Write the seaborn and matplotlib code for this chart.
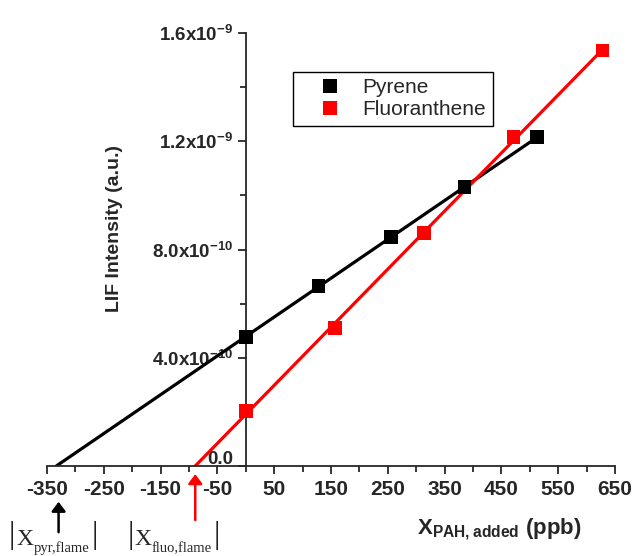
import numpy as np
import pandas as pd
import matplotlib
matplotlib.use("Agg")
import matplotlib.pyplot as plt
import matplotlib.transforms as mtransforms
import seaborn as sns

# measured signals (a.u.) vs added PAH concentration (ppb)
pyrene_x = [0, 128, 256, 385, 513]
pyrene_y = [4.77e-10, 6.65e-10, 8.46e-10, 1.03e-9, 1.215e-9]
fluo_x = [0, 157, 314, 471, 628]
fluo_y = [2.03e-10, 5.10e-10, 8.61e-10, 1.215e-9, 1.535e-9]

series_names = ["Pyrene", "Fluoranthene"]
series_colors = ["black", "red"]

xticks_major = [-350, -250, -150, -50, 50, 150, 250, 350, 450, 550, 650]
xtick_labels = ["-350", "-250", "-150", "-50", "50", "150", "250", "350",
                "450", "550", "650"]
yticks_major = [0.0, 4.0e-10, 8.0e-10, 1.2e-9, 1.6e-9]
ytick_labels = ["0.0", r"4.0x10$^{-10}$", r"8.0x10$^{-10}$",
                r"1.2x10$^{-9}$", r"1.6x10$^{-9}$"]

sns.set_style("ticks")
plt.rcParams["font.family"] = ["Liberation Sans", "DejaVu Sans"]
plt.rcParams["font.weight"] = "bold"
plt.rcParams["mathtext.fontset"] = "custom"
plt.rcParams["mathtext.rm"] = "Liberation Sans:bold"
plt.rcParams["mathtext.bf"] = "Liberation Sans:bold"
plt.rcParams["mathtext.default"] = "rm"
plt.rcParams["axes.unicode_minus"] = False

df = pd.DataFrame({
    "x": pyrene_x + fluo_x,
    "y": pyrene_y + fluo_y,
    "PAH": [series_names[0]] * len(pyrene_x) + [series_names[1]] * len(fluo_x),
})
palette = dict(zip(series_names, series_colors))

fig = plt.figure(figsize=(6.33, 5.56), dpi=100)
ax = fig.add_axes([47 / 633, 90 / 556, 568 / 633, 433 / 556])

# linear fits extrapolated down to zero signal
intercepts = []
for name, xs, ys in [(series_names[0], pyrene_x, pyrene_y),
                     (series_names[1], fluo_x, fluo_y)]:
    slope, b = np.polyfit(xs, ys, 1)
    x0 = -b / slope
    intercepts.append(x0)
    xl = np.array([x0, max(xs)])
    sns.lineplot(x=xl, y=slope * xl + b, color=palette[name], lw=2.3, ax=ax,
                 zorder=2)

sns.scatterplot(data=df, x="x", y="y", hue="PAH", palette=palette, marker="s",
                s=95, linewidth=0, ax=ax, zorder=3)

ax.set_xlim(-350, 650)
ax.set_ylim(0, 1.6e-9)
ax.spines["left"].set_position(("data", 0))
ax.spines["top"].set_visible(False)
ax.spines["right"].set_visible(False)
for sp in ["left", "bottom"]:
    ax.spines[sp].set_linewidth(1.3)

ax.set_xticks(xticks_major)
ax.set_xticklabels(xtick_labels)
ax.set_xticks(np.arange(-300, 651, 100), minor=True)
ax.set_yticks(yticks_major)
ax.set_yticklabels(ytick_labels)
ax.set_yticks(np.arange(2e-10, 1.6e-9, 4e-10), minor=True)
ax.tick_params(axis="both", which="major", length=6, width=1.3, pad=3)
ax.tick_params(axis="both", which="minor", length=4, width=1.3)
ax.tick_params(axis="x", which="major", pad=4, labelsize=15)
ax.tick_params(axis="y", which="major", labelsize=13.5)

# "0.0" sits a little above the x axis
zero_lab = ax.get_yticklabels()[0]
zero_lab.set_transform(zero_lab.get_transform() +
                       mtransforms.ScaledTranslation(0, 9 / 100, fig.dpi_scale_trans))

ax.set_ylabel("LIF Intensity (a.u.)", fontsize=14, fontweight="bold")
ax.yaxis.set_label_coords(0.134, 0.548)
ax.set_xlabel(r"$\mathbf{X_{PAH,added}}$ (ppb)", fontsize=16,
              fontweight="bold")
ax.xaxis.set_label_coords(0.796, -0.115)

sns.move_legend(ax, "upper left", bbox_to_anchor=(0.433, 0.91), title=None,
                frameon=True, fancybox=False, borderaxespad=0,
                prop={"size": 15, "weight": "normal"},
                handlelength=3.0, handletextpad=0.05, borderpad=0.3,
                labelspacing=0.15, edgecolor="black", framealpha=1)
ax.get_legend().get_frame().set_linewidth(1.0)

# arrows pointing up to the x-intercepts
ax.annotate("", xy=(intercepts[0] + 4, -0.122e-9),
            xytext=(intercepts[0] + 4, -0.255e-9), annotation_clip=False,
            arrowprops=dict(arrowstyle="-|>,head_width=0.3", color="black",
                            lw=1.8, mutation_scale=14))
ax.annotate("", xy=(intercepts[1], -0.02e-9),
            xytext=(intercepts[1], -0.21e-9), annotation_clip=False,
            arrowprops=dict(arrowstyle="-|>,head_width=0.3", color="red",
                            lw=1.8, mutation_scale=14))

# |X_pyr,flame|  and  |X_fluo,flame|  under the axis
serif = "Liberation Serif"
for x_bar1, x_X, sub, x_bar2 in [(9, 16, "pyr,flame", 92),
                                 (128, 134, "fluo,flame", 214)]:
    for xb in (x_bar1, x_bar2):
        fig.text(xb / 633, 1 - 521 / 556, "|", family=serif, fontsize=23,
                 weight="normal", va="top", ha="left", color="#222222")
    fig.text(x_X / 633, 1 - 545 / 556, "X", family=serif, fontsize=17,
             weight="normal", va="baseline", ha="left")
    fig.text((x_X + 18) / 633, 1 - 552 / 556, sub, family=serif, fontsize=10.5,
             weight="normal", va="baseline", ha="left")

fig.savefig("out.png", dpi=100)
